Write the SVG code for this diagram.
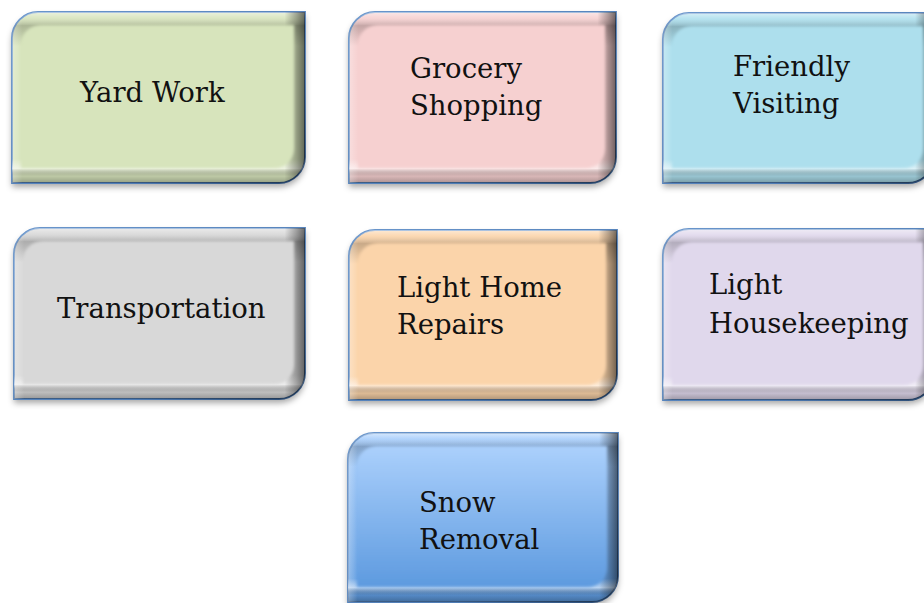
<svg xmlns="http://www.w3.org/2000/svg" width="924" height="603" viewBox="0 0 924 603">
<defs>
<filter id="blur" x="-10%" y="-10%" width="120%" height="130%"><feGaussianBlur stdDeviation="3"/></filter>
<filter id="soft" x="-5%" y="-5%" width="110%" height="110%"><feGaussianBlur stdDeviation="1.6"/></filter>
<linearGradient id="rimV" x1="0" y1="0" x2="0" y2="1">
<stop offset="0" stop-color="#fff" stop-opacity="0.5"/>
<stop offset="0.035" stop-color="#fff" stop-opacity="0.1"/>
<stop offset="0.08" stop-color="#000" stop-opacity="0.2"/>
<stop offset="0.2" stop-color="#000" stop-opacity="0"/>
<stop offset="0.86" stop-color="#fff" stop-opacity="0"/>
<stop offset="0.915" stop-color="#fff" stop-opacity="0.55"/>
<stop offset="0.96" stop-color="#000" stop-opacity="0.12"/>
<stop offset="1" stop-color="#000" stop-opacity="0.3"/>
</linearGradient>
<linearGradient id="rimH" x1="0" y1="0" x2="1" y2="0">
<stop offset="0" stop-color="#fff" stop-opacity="0.3"/>
<stop offset="0.035" stop-color="#fff" stop-opacity="0"/>
<stop offset="0.93" stop-color="#000" stop-opacity="0"/>
<stop offset="0.97" stop-color="#000" stop-opacity="0.3"/>
<stop offset="1" stop-color="#000" stop-opacity="0.55"/>
</linearGradient>
<linearGradient id="edge" x1="0" y1="0" x2="1" y2="1">
<stop offset="0" stop-color="#6a96cc"/>
<stop offset="0.7" stop-color="#4f7db6"/>
<stop offset="1" stop-color="#2a4a72"/>
</linearGradient>
<linearGradient id="snow" x1="0" y1="0" x2="0" y2="1">
<stop offset="0" stop-color="#abd0fc"/>
<stop offset="1" stop-color="#5d9adf"/>
</linearGradient>
</defs>
<style>
.sh{fill:#000;fill-opacity:0.35;filter:url(#blur)}
.ol{stroke:url(#edge);stroke-width:1.8}
.rv{fill:url(#rimV)}
.rh{fill:url(#rimH)}
.fc{filter:url(#soft)}
.t{font-family:"DejaVu Serif","Liberation Serif",serif;font-size:27.5px;fill:#111}
</style>

<g id="yard-work">
<path class="sh" transform="translate(0,4)" d="M12,38 A26 26 0 0 1 38,12 H305 V157 A26 26 0 0 1 279,183 H12 Z"/>
<path class="ol" fill="#d7e4bc" d="M12,38 A26 26 0 0 1 38,12 H305 V157 A26 26 0 0 1 279,183 H12 Z"/>
<path class="rv" d="M12,38 A26 26 0 0 1 38,12 H305 V157 A26 26 0 0 1 279,183 H12 Z"/>
<path class="rh" d="M12,38 A26 26 0 0 1 38,12 H305 V157 A26 26 0 0 1 279,183 H12 Z"/>
<path class="fc" fill="#d7e4bc" d="M21,45 A20 20 0 0 1 41,25 H294 V148 A20 20 0 0 1 274,168 H21 Z"/>
<text class="t" x="80" y="102">Yard Work</text>
</g>

<g id="grocery-shopping">
<path class="sh" transform="translate(0,4)" d="M349,38 A26 26 0 0 1 375,12 H616 V157 A26 26 0 0 1 590,183 H349 Z"/>
<path class="ol" fill="#f6d0d0" d="M349,38 A26 26 0 0 1 375,12 H616 V157 A26 26 0 0 1 590,183 H349 Z"/>
<path class="rv" d="M349,38 A26 26 0 0 1 375,12 H616 V157 A26 26 0 0 1 590,183 H349 Z"/>
<path class="rh" d="M349,38 A26 26 0 0 1 375,12 H616 V157 A26 26 0 0 1 590,183 H349 Z"/>
<path class="fc" fill="#f6d0d0" d="M358,45 A20 20 0 0 1 378,25 H605 V148 A20 20 0 0 1 585,168 H358 Z"/>
<text class="t" x="410" y="78">Grocery</text>
<text class="t" x="410" y="115">Shopping</text>
</g>

<g id="friendly-visiting">
<path class="sh" transform="translate(0,4)" d="M663,39 A26 26 0 0 1 689,13 H934 V157 A26 26 0 0 1 908,183 H663 Z"/>
<path class="ol" fill="#addfed" d="M663,39 A26 26 0 0 1 689,13 H934 V157 A26 26 0 0 1 908,183 H663 Z"/>
<path class="rv" d="M663,39 A26 26 0 0 1 689,13 H934 V157 A26 26 0 0 1 908,183 H663 Z"/>
<path class="rh" d="M663,39 A26 26 0 0 1 689,13 H934 V157 A26 26 0 0 1 908,183 H663 Z"/>
<path class="fc" fill="#addfed" d="M672,46 A20 20 0 0 1 692,26 H923 V148 A20 20 0 0 1 903,168 H672 Z"/>
<text class="t" x="733" y="76">Friendly</text>
<text class="t" x="733" y="113">Visiting</text>
</g>

<g id="transportation">
<path class="sh" transform="translate(0,4)" d="M14,254 A26 26 0 0 1 40,228 H305 V373 A26 26 0 0 1 279,399 H14 Z"/>
<path class="ol" fill="#d8d8d8" d="M14,254 A26 26 0 0 1 40,228 H305 V373 A26 26 0 0 1 279,399 H14 Z"/>
<path class="rv" d="M14,254 A26 26 0 0 1 40,228 H305 V373 A26 26 0 0 1 279,399 H14 Z"/>
<path class="rh" d="M14,254 A26 26 0 0 1 40,228 H305 V373 A26 26 0 0 1 279,399 H14 Z"/>
<path class="fc" fill="#d8d8d8" d="M23,261 A20 20 0 0 1 43,241 H294 V364 A20 20 0 0 1 274,384 H23 Z"/>
<text class="t" x="57" y="318">Transportation</text>
</g>

<g id="light-home-repairs">
<path class="sh" transform="translate(0,4)" d="M349,256 A26 26 0 0 1 375,230 H617 V374 A26 26 0 0 1 591,400 H349 Z"/>
<path class="ol" fill="#fbd4aa" d="M349,256 A26 26 0 0 1 375,230 H617 V374 A26 26 0 0 1 591,400 H349 Z"/>
<path class="rv" d="M349,256 A26 26 0 0 1 375,230 H617 V374 A26 26 0 0 1 591,400 H349 Z"/>
<path class="rh" d="M349,256 A26 26 0 0 1 375,230 H617 V374 A26 26 0 0 1 591,400 H349 Z"/>
<path class="fc" fill="#fbd4aa" d="M358,263 A20 20 0 0 1 378,243 H606 V365 A20 20 0 0 1 586,385 H358 Z"/>
<text class="t" x="397" y="297">Light Home</text>
<text class="t" x="397" y="334">Repairs</text>
</g>

<g id="light-housekeeping">
<path class="sh" transform="translate(0,4)" d="M663,255 A26 26 0 0 1 689,229 H934 V374 A26 26 0 0 1 908,400 H663 Z"/>
<path class="ol" fill="#e0d8ec" d="M663,255 A26 26 0 0 1 689,229 H934 V374 A26 26 0 0 1 908,400 H663 Z"/>
<path class="rv" d="M663,255 A26 26 0 0 1 689,229 H934 V374 A26 26 0 0 1 908,400 H663 Z"/>
<path class="rh" d="M663,255 A26 26 0 0 1 689,229 H934 V374 A26 26 0 0 1 908,400 H663 Z"/>
<path class="fc" fill="#e0d8ec" d="M672,262 A20 20 0 0 1 692,242 H923 V365 A20 20 0 0 1 903,385 H672 Z"/>
<text class="t" x="709" y="294">Light</text>
<text class="t" x="709" y="333">Housekeeping</text>
</g>

<g id="snow-removal">
<path class="sh" transform="translate(0,4)" d="M348,459 A26 26 0 0 1 374,433 H618 V576 A26 26 0 0 1 592,602 H348 Z"/>
<path class="ol" fill="url(#snow)" d="M348,459 A26 26 0 0 1 374,433 H618 V576 A26 26 0 0 1 592,602 H348 Z"/>
<path class="rv" d="M348,459 A26 26 0 0 1 374,433 H618 V576 A26 26 0 0 1 592,602 H348 Z"/>
<path class="rh" d="M348,459 A26 26 0 0 1 374,433 H618 V576 A26 26 0 0 1 592,602 H348 Z"/>
<path class="fc" fill="url(#snow)" d="M357,466 A20 20 0 0 1 377,446 H607 V567 A20 20 0 0 1 587,587 H357 Z"/>
<text class="t" x="419" y="512">Snow</text>
<text class="t" x="419" y="549">Removal</text>
</g>

<g id="connectors"/>
</svg>
